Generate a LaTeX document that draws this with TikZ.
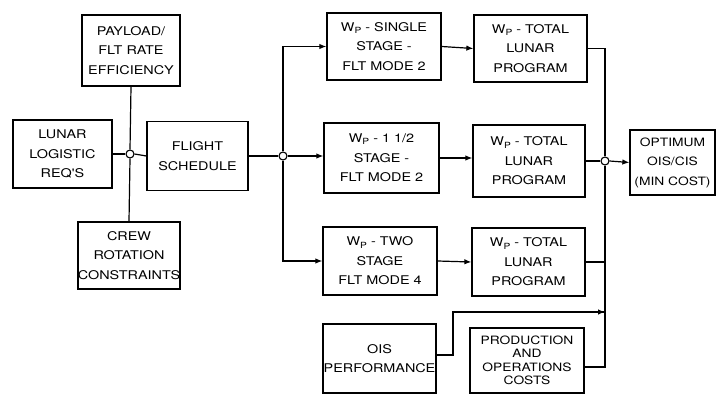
\documentclass[tikz,border=0pt]{standalone}
\usepackage{fontspec}
\newfontfamily\diagfont[FakeStretch=1.2]{TeX Gyre Heros}
\usetikzlibrary{arrows.meta}
\newcommand{\Wp}{W\raisebox{-0.35ex}{\fontsize{8.5}{8.5}\selectfont P}}
\begin{document}
\begin{tikzpicture}[x=1pt,y=-1pt,
  box/.style={draw,line width=1.3pt,rectangle,align=center,inner sep=0pt,
    font=\diagfont\fontsize{12}{19.5}\selectfont},
  conn/.style={line width=1.2pt},
  arr/.style={conn,-{Latex[length=7pt,width=5.5pt]}},
  jn/.style={draw,circle,line width=1.1pt,fill=white,minimum size=8pt,inner sep=0pt}]
\useasboundingbox (0,0) rectangle (717,395);
% left column
\node[box,minimum width=98pt,minimum height=71pt] (payload) at (131,50.5) {PAYLOAD/\\FLT RATE\\EFFICIENCY};
\node[box,minimum width=99pt,minimum height=68pt] (lunar) at (62.5,154) {LUNAR\\LOGISTIC\\REQ'S};
\node[box,minimum width=102pt,minimum height=67pt] (crew) at (129,255.5) {CREW\\ROTATION\\CONSTRAINTS};
\node[box,minimum width=101pt,minimum height=69pt] (flight) at (197.5,156) {FLIGHT\\SCHEDULE};
% middle column
\node[box,minimum width=114pt,minimum height=67pt] (single) at (384,46.5) {\Wp{} - SINGLE\\STAGE -\\FLT MODE 2};
\node[box,minimum width=115pt,minimum height=70pt] (half) at (381.5,158) {\Wp{} - 1 1/2\\STAGE -\\FLT MODE 2};
\node[box,minimum width=114pt,minimum height=68pt] (two) at (380,261) {\Wp{} - TWO\\STAGE\\FLT MODE 4};
\node[box,minimum width=113pt,minimum height=69pt] (ois) at (379.5,358.5) {OIS\\PERFORMANCE};
% right column
\node[box,minimum width=113pt,minimum height=67pt] (total1) at (530.5,48.5) {\Wp{} - TOTAL\\LUNAR\\PROGRAM};
\node[box,minimum width=112pt,minimum height=72pt] (total2) at (529,161) {\Wp{} - TOTAL\\LUNAR\\PROGRAM};
\node[box,minimum width=113pt,minimum height=68pt] (total3) at (528.5,262) {\Wp{} - TOTAL\\LUNAR\\PROGRAM};
\node[box,minimum width=114pt,minimum height=65pt,font=\diagfont\fontsize{11.5}{13.5}\selectfont] (prod) at (527,360.5) {PRODUCTION\\AND\\OPERATIONS\\COSTS};
\node[box,minimum width=85pt,minimum height=65pt,font=\diagfont\fontsize{11.5}{19.5}\selectfont] (opt) at (672.5,162.5) {OPTIMUM\\OIS/CIS\\(MIN COST)};
% junctions
\node[jn] (j1) at (130,154) {};
\node[jn] (j2) at (283,156) {};
\node[jn] (j3) at (605,161) {};
\coordinate (bustop) at (605,48.5);
\coordinate (busbot) at (605,367);
\coordinate (oisA) at (453,355);
\coordinate (oisB) at (453,312);
\coordinate (oisC) at (605,312);
% left connections
\draw[conn] (payload.south) -- (j1.north);
\draw[conn] (j1.south) -- (crew.north);
\draw[conn] (lunar.east) -- (j1.west);
\draw[conn] (j1.east) -- (flight.west);
% flight schedule fan-out
\draw[conn] (flight.east) -- (j2.west);
\draw[arr] (j2.north) |- (single.west);
\draw[arr] (j2.east) -- (half.west |- j2);
\draw[arr] (j2.south) |- (two.west);
% to totals
\draw[arr] (single.east) -- (total1.west);
\draw[arr] (half.east |- 0,158) -- (total2.west |- 0,158);
\draw[arr] (two.east) -- (total3.west);
% right bus
\draw[conn] (total1.east) -- (bustop) -- (j3.north);
\draw[conn] (total2.east) -- (j3.west);
\draw[conn] (j3.south) -- (busbot) -- (prod.east |- busbot);
\draw[conn] (total3.east) -- (total3.east -| j3);
\draw[arr] (j3.east) -- (opt.west);
% OIS performance input
\draw[conn] (ois.east |- oisA) -- (oisA) -- (oisB) -- (oisC);
\draw[arr] (oisB) -- (oisC);
\end{tikzpicture}
\end{document}
